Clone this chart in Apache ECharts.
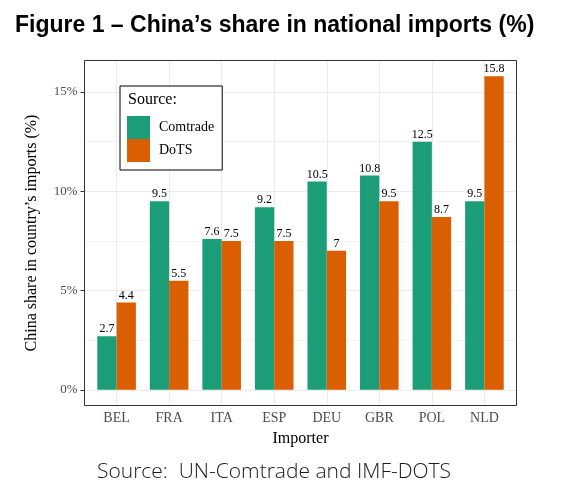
<!DOCTYPE html>
<html lang="en">
<head>
    <meta charset="UTF-8">
    <title>China share in national imports</title>
    <script src="https://cdn.jsdelivr.net/npm/echarts@6/dist/echarts.min.js"></script>
    <style>
        html, body { margin: 0; padding: 0; background: #fff; }
        #chart { width: 567px; height: 494px; }
    </style>
</head>
<body>
<div id="chart"></div>
<script type="text/javascript">
    // data
    var importers = ['BEL', 'FRA', 'ITA', 'ESP', 'DEU', 'GBR', 'POL', 'NLD'];
    var comtrade = [2.7, 9.5, 7.6, 9.2, 10.5, 10.8, 12.5, 9.5];
    var dots = [4.4, 5.5, 7.5, 7.5, 7, 9.5, 8.7, 15.8];
    var yTicks = [0, 5, 10, 15];

    var serif = '"Liberation Serif", "Times New Roman", serif';
    var yMin = -0.79, yMax = 16.59;

    var chart = echarts.init(document.getElementById('chart'));
    chart.setOption({
        animation: false,
        graphic: [
            {
                type: 'text', left: 15, top: 14,
                style: {
                    text: 'Figure 1 \u2013 China\u2019s share in national imports (%)',
                    font: 'bold 23px "Liberation Sans", Arial, sans-serif',
                    fill: '#000'
                }
            },
            {
                type: 'text', left: 97, top: 462,
                style: {
                    text: 'Source:  UN-Comtrade and IMF-DOTS',
                    font: '300 21px "Open Sans", "DejaVu Sans", sans-serif',
                    fill: '#1a1a1a'
                }
            },
            {
                type: 'text', left: 128, top: 92,
                style: { text: 'Source:', font: '16px ' + serif, fill: '#000' },
                z: 100
            }
        ],
        legend: {
            left: 120, top: 86,
            orient: 'vertical',
            data: ['Comtrade', 'DoTS'],
            icon: 'rect',
            itemWidth: 23, itemHeight: 23, itemGap: 0,
            padding: [30, 8, 8, 7],
            backgroundColor: '#fff',
            borderColor: '#000', borderWidth: 1, borderRadius: 0,
            selectedMode: false,
            textStyle: { fontFamily: serif, fontSize: 14, color: '#000', padding: [0, 0, 0, 4] }
        },
        grid: [
            { left: 84.5, right: 50.5, top: 60.5, bottom: 88.5, show: true, borderColor: '#333', borderWidth: 1, z: 3 },
            { left: 90.3, right: 56.3, top: 60.5, bottom: 88.5 }
        ],
        xAxis: [
            {
                type: 'category', gridIndex: 1, data: importers,
                axisLine: { show: false },
                axisTick: { alignWithLabel: true, length: 4, lineStyle: { color: '#333' } },
                axisLabel: { margin: 6, fontFamily: serif, fontSize: 14, color: '#4d4d4d' },
                splitLine: { show: true, alignWithLabel: true, lineStyle: { color: '#ebebeb', width: 1 } },
                name: 'Importer', nameLocation: 'middle', nameGap: 24,
                nameTextStyle: { fontFamily: serif, fontSize: 16, color: '#000' }
            },
            { type: 'value', gridIndex: 0, min: 0, max: 1, show: false }
        ],
        yAxis: [
            {
                type: 'value', gridIndex: 0, min: yMin, max: yMax, splitNumber: 4,
                axisLine: { show: false },
                axisTick: { show: true, customValues: yTicks, length: 4, lineStyle: { color: '#333' } },
                axisLabel: {
                    customValues: yTicks, margin: 7, formatter: '{value}%',
                    fontFamily: serif, fontSize: 13, color: '#4d4d4d'
                },
                splitLine: { lineStyle: { color: '#ebebeb', width: 1 } },
                name: 'China share in country\u2019s imports (%)',
                nameLocation: 'middle', nameGap: 45, nameRotate: 90,
                nameTextStyle: { fontFamily: serif, fontSize: 16, color: '#000' }
            },
            {
                // helper axis, shifted by 2.5 so its split lines fall on the minor grid
                type: 'value', gridIndex: 0, min: yMin + 2.5, max: yMax + 2.5, splitNumber: 4,
                axisLine: { show: false }, axisTick: { show: false }, axisLabel: { show: false },
                splitLine: { lineStyle: { color: '#ededed', width: 0.7 } }
            },
            { type: 'value', gridIndex: 1, min: yMin, max: yMax, show: false }
        ],
        series: [
            {
                name: 'Comtrade', type: 'bar', xAxisIndex: 0, yAxisIndex: 2,
                data: comtrade, barWidth: 19.3, barGap: '0%',
                itemStyle: { color: '#1b9e77' },
                label: { show: true, position: 'top', distance: 1, fontFamily: serif, fontSize: 12, color: '#000' }
            },
            {
                name: 'DoTS', type: 'bar', xAxisIndex: 0, yAxisIndex: 2,
                data: dots, barWidth: 19.3, barGap: '0%',
                itemStyle: { color: '#d95f02' },
                label: { show: true, position: 'top', distance: 1, fontFamily: serif, fontSize: 12, color: '#000' }
            }
        ]
    });
</script>
</body>
</html>
